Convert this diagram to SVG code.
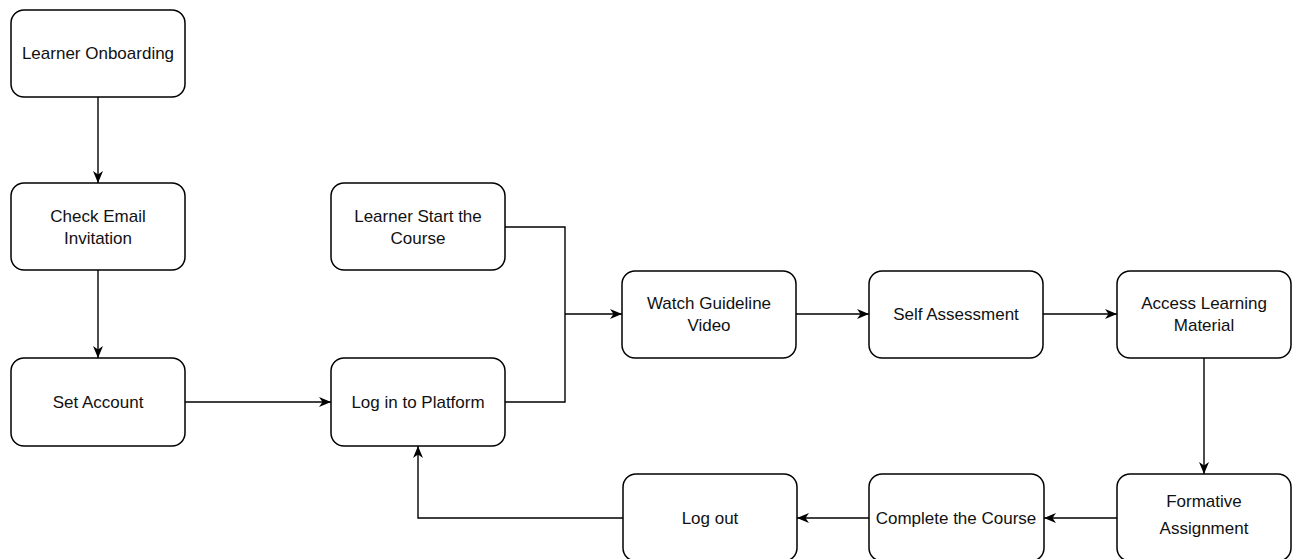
<svg xmlns="http://www.w3.org/2000/svg" width="1300" height="559" viewBox="0 0 1300 559">
<style>
.node rect{fill:#fff;stroke:#000;stroke-width:1.5}
.node text{font-family:"Liberation Sans",Arial,sans-serif;font-size:17px;fill:#111;text-anchor:middle}
.edge{fill:none;stroke:#000;stroke-width:1.4}
</style>
<defs>
<marker id="arr" markerUnits="userSpaceOnUse" markerWidth="13" markerHeight="12" refX="12" refY="6" orient="auto">
<path d="M0,1 L12,6 L0,11 L3.5,6 Z" fill="#000"/>
</marker>
</defs>
<rect width="1300" height="559" fill="#fff"/>
<g id="connectors">
<path class="edge" d="M98,97 V183" marker-end="url(#arr)"/>
<path class="edge" d="M98,270 V358" marker-end="url(#arr)"/>
<path class="edge" d="M185,402 H331" marker-end="url(#arr)"/>
<path class="edge" d="M505,227 H565 V402 H505"/>
<path class="edge" d="M565,314 H622" marker-end="url(#arr)"/>
<path class="edge" d="M796,314 H869" marker-end="url(#arr)"/>
<path class="edge" d="M1043,314 H1117" marker-end="url(#arr)"/>
<path class="edge" d="M1204,358 V474" marker-end="url(#arr)"/>
<path class="edge" d="M1117,518 H1044" marker-end="url(#arr)"/>
<path class="edge" d="M869,518 H797" marker-end="url(#arr)"/>
<path class="edge" d="M623,518 H418 V446" marker-end="url(#arr)"/>
</g>
<g id="n1" class="node"><rect x="11" y="10" width="174" height="87" rx="13"/><text x="98" y="59">Learner Onboarding</text></g>
<g id="n2" class="node"><rect x="11" y="183" width="174" height="87" rx="13"/><text x="98" y="222">Check Email</text><text x="98" y="244">Invitation</text></g>
<g id="n3" class="node"><rect x="11" y="358" width="174" height="88" rx="13"/><text x="98" y="408">Set Account</text></g>
<g id="n4" class="node"><rect x="331" y="183" width="174" height="87" rx="13"/><text x="418" y="222">Learner Start the</text><text x="418" y="244">Course</text></g>
<g id="n5" class="node"><rect x="331" y="358" width="174" height="88" rx="13"/><text x="418" y="408">Log in to Platform</text></g>
<g id="n6" class="node"><rect x="622" y="271" width="174" height="87" rx="13"/><text x="709" y="309">Watch Guideline</text><text x="709" y="331">Video</text></g>
<g id="n7" class="node"><rect x="869" y="271" width="174" height="87" rx="13"/><text x="956" y="320">Self Assessment</text></g>
<g id="n8" class="node"><rect x="1117" y="271" width="174" height="87" rx="13"/><text x="1204" y="309">Access Learning</text><text x="1204" y="331">Material</text></g>
<g id="n9" class="node"><rect x="1117" y="474" width="174" height="87" rx="13"/><text x="1204" y="507">Formative</text><text x="1204" y="534">Assignment</text></g>
<g id="n10" class="node"><rect x="869" y="474" width="175" height="87" rx="13"/><text x="956" y="524">Complete the Course</text></g>
<g id="n11" class="node"><rect x="623" y="474" width="174" height="87" rx="13"/><text x="710" y="524">Log out</text></g>
</svg>
